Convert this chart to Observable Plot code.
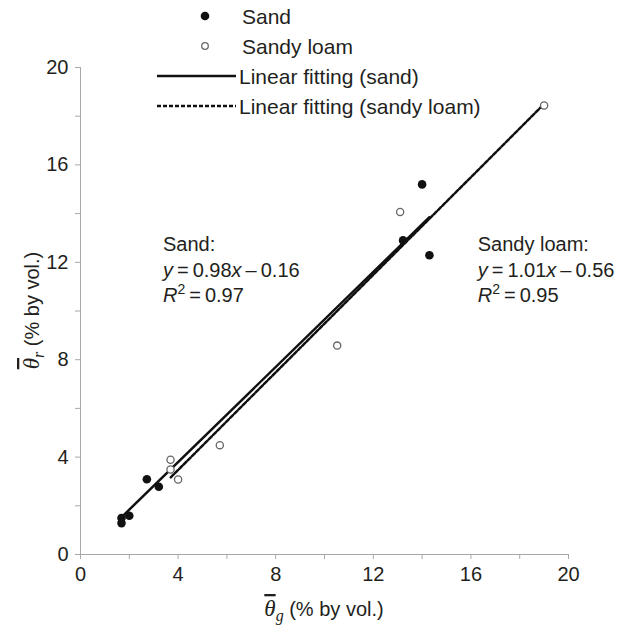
<!DOCTYPE html>
<html><head><meta charset="utf-8">
<script src="https://cdn.jsdelivr.net/npm/d3@7"></script>
<script src="https://cdn.jsdelivr.net/npm/@observablehq/plot@0.6"></script>
<style>
html,body{margin:0;padding:0;background:#fff;}
#chart{position:relative;width:621px;height:631px;}
</style></head><body><div id="chart"></div>
<script>
// ---- data ----
const sandX = [1.68, 1.68, 2.0, 2.72, 3.21, 13.22, 14.0, 14.3];
const sandY = [1.29, 1.5, 1.59, 3.09, 2.78, 12.9, 15.2, 12.29];
const loamX = [3.69, 3.69, 4.0, 5.71, 10.52, 13.1, 19.0];
const loamY = [3.89, 3.49, 3.08, 4.49, 8.58, 14.07, 18.44];
// fitted line end points
const sandFitX = [1.75, 14.3];
const sandFitY = [1.6, 13.85];
const loamFitX = [3.7, 19.0];
const loamFitY = [3.17, 18.5];
// axis ticks
const tickValues = [0, 2, 4, 6, 8, 10, 12, 14, 16, 18, 20];
const tickLabels = [0, 4, 8, 12, 16, 20];
// annotations
const annotName = ["Sand:", "Sandy loam:"];
const annotSlope = ["0.98", "1.01"];
const annotIntercept = ["0.16", "0.56"];
const annotR2 = ["0.97", "0.95"];
const annotX = [3.4, 16.3];
const annotY = [12.45, 12.45];
// legend
const legendLabels = ["Sand", "Sandy loam", "Linear fitting (sand)", "Linear fitting (sandy loam)"];

const sand = sandX.map((x, i) => ({x, y: sandY[i]}));
const loam = loamX.map((x, i) => ({x, y: loamY[i]}));
const sandFit = sandFitX.map((x, i) => ({x, y: sandFitY[i]}));
const loamFit = loamFitX.map((x, i) => ({x, y: loamFitY[i]}));

const FONT = "'Liberation Sans', Arial, Helvetica, sans-serif";
const SERIF = "'Liberation Serif', 'DejaVu Serif', serif";
const TXT = "#231f20";
const AX = "#a8a8a8";
const fmt = d => tickLabels.includes(d) ? String(d) : "";

const plot = Plot.plot({
  width: 621, height: 631,
  marginLeft: 80, marginRight: 53, marginTop: 67, marginBottom: 77,
  style: {fontFamily: FONT, fontSize: "20px", background: "#fff", color: TXT},
  x: {domain: [0, 20]},
  y: {domain: [0, 20]},
  marks: [
    Plot.axisX({ticks: tickValues, tickFormat: fmt, tickSize: 5, tickPadding: 7, stroke: AX, fill: TXT, label: null}),
    Plot.axisY({ticks: tickValues, tickFormat: fmt, tickSize: 5, tickPadding: 7, stroke: AX, fill: TXT, label: null}),
    Plot.ruleY([0], {stroke: AX, strokeWidth: 1}),
    Plot.ruleX([0], {stroke: AX, strokeWidth: 1}),
    Plot.line(loamFit, {x: "x", y: "y", stroke: "#111", strokeWidth: 2.5, strokeDasharray: "4,2"}),
    Plot.line(sandFit, {x: "x", y: "y", stroke: "#111", strokeWidth: 2.5}),
    Plot.dot(loam, {x: "x", y: "y", r: 3.6, stroke: "#666", strokeWidth: 1.3, fill: "#fff"}),
    Plot.dot(sand, {x: "x", y: "y", r: 4.3, fill: "#111", stroke: "none"})
  ]
});
document.getElementById("chart").appendChild(plot);

const svg = d3.select(plot);
const xs = plot.scale("x"), ys = plot.scale("y");

// annotations
annotName.forEach((name, i) => {
  const px = xs.apply(annotX[i]), py = ys.apply(annotY[i]);
  const g = svg.append("g").attr("font-family", FONT).attr("font-size", 20).attr("fill", TXT).attr("text-anchor", "start");
  g.append("text").attr("x", px).attr("y", py).text(name);
  const t2 = g.append("text").attr("x", px).attr("y", py + 26);
  t2.append("tspan").attr("font-style", "italic").text("y");
  t2.append("tspan").text("\u2009=\u2009" + annotSlope[i]);
  t2.append("tspan").attr("font-style", "italic").text("x");
  t2.append("tspan").text("\u2009\u2013\u2009" + annotIntercept[i]);
  const t3 = g.append("text").attr("x", px).attr("y", py + 51);
  t3.append("tspan").attr("font-style", "italic").text("R");
  t3.append("tspan").attr("font-size", 14).attr("dy", -8).text("2");
  t3.append("tspan").attr("dy", 8).text("\u2009=\u2009" + annotR2[i]);
});

// axis titles
function title(sel, sub) {
  sel.append("tspan").attr("font-family", SERIF).attr("font-style", "italic").attr("font-size", 23)
    .style("text-decoration", "overline").text("\u03B8");
  sel.append("tspan").attr("font-family", SERIF).attr("font-style", "italic").attr("font-size", 16).attr("dy", 5).text(sub);
  sel.append("tspan").attr("dy", -5).text(" (% by vol.)");
}
const xTitle = svg.append("text")
  .attr("x", (xs.range[0] + xs.range[1]) / 2).attr("y", 616)
  .attr("text-anchor", "middle").attr("font-family", FONT).attr("font-size", 20).attr("fill", TXT);
title(xTitle, "g");

const yc = (ys.range[0] + ys.range[1]) / 2;
const yTitle = svg.append("text")
  .attr("transform", `translate(39,${yc}) rotate(-90)`)
  .attr("text-anchor", "middle").attr("font-family", FONT).attr("font-size", 20).attr("fill", TXT);
title(yTitle, "r");

// legend
const lg = svg.append("g").attr("font-family", FONT).attr("font-size", 21).attr("fill", TXT).attr("text-anchor", "start");
const rows = [16, 46, 76, 106];
lg.append("circle").attr("cx", 205).attr("cy", rows[0]).attr("r", 4.3).attr("fill", "#111");
lg.append("circle").attr("cx", 205).attr("cy", rows[1]).attr("r", 3.3).attr("fill", "#fff").attr("stroke", "#666").attr("stroke-width", 1.3);
lg.append("line").attr("x1", 157).attr("x2", 236).attr("y1", rows[2]).attr("y2", rows[2]).attr("stroke", "#111").attr("stroke-width", 2.5);
lg.append("line").attr("x1", 157).attr("x2", 236).attr("y1", rows[3]).attr("y2", rows[3]).attr("stroke", "#111").attr("stroke-width", 2.5).attr("stroke-dasharray", "4,2");
legendLabels.forEach((s, i) => {
  lg.append("text").attr("x", i < 2 ? 242 : 239).attr("y", rows[i]).attr("dy", "0.36em").text(s);
});
</script>
</body></html>
